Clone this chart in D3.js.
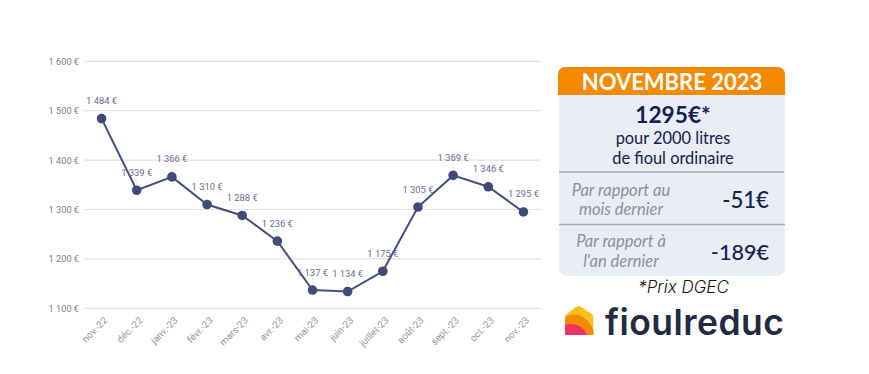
<!DOCTYPE html>
<html>
<head>
<meta charset="utf-8">
<script src="https://cdn.jsdelivr.net/npm/d3@7"></script>
<style>
  html, body { margin: 0; padding: 0; background: #fff; }
  svg { display: block; }
</style>
</head>
<body>
<svg id="chart"></svg>
<script>
const months = ['nov.-22', 'déc.-22', 'janv.-23', 'févr.-23', 'mars-23', 'avr.-23', 'mai-23', 'juin-23', 'juillet-23', 'août-23', 'sept.-23', 'oct.-23', 'nov.-23'];
const prices = [1484, 1339, 1366, 1310, 1288, 1236, 1137, 1134, 1175, 1305, 1369, 1346, 1295];
const yTicks = [1100, 1200, 1300, 1400, 1500, 1600];

const W = 869, H = 374;
const svg = d3.select('#chart').attr('width', W).attr('height', H);

const x = d3.scaleBand().domain(months).range([84, 541]);
const y = d3.scaleLinear().domain([1100, 1600]).range([308.3, 61.3]);
const fmt = v => String(v).replace(/(\d)(\d{3})$/, '$1 $2') + ' €';
const cx = d => x(d) + x.bandwidth() / 2;

const chartFont = 'Roboto, sans-serif';

// grid + y labels
svg.append('g').selectAll('line').data(yTicks).join('line')
  .attr('x1', 84).attr('x2', 541)
  .attr('y1', d => y(d)).attr('y2', d => y(d))
  .attr('stroke', '#e2e2e2').attr('stroke-width', 1.2);

svg.append('g').selectAll('text').data(yTicks).join('text')
  .attr('x', 79).attr('y', d => y(d) + 3.5)
  .attr('text-anchor', 'end')
  .attr('font-family', chartFont).attr('font-size', 9.2).attr('fill', '#808080')
  .text(fmt);

// x labels
svg.append('g').selectAll('text').data(months).join('text')
  .attr('transform', d => `translate(${cx(d) + 6.5},${321}) rotate(-45)`)
  .attr('text-anchor', 'end')
  .attr('font-family', chartFont).attr('font-size', 9.7).attr('fill', '#969696')
  .text(d => d);

// line
const series = months.map((m, i) => ({ m, v: prices[i] }));

svg.append('g').selectAll('line').data(series).join('line')
  .attr('x1', d => cx(d.m)).attr('x2', d => cx(d.m))
  .attr('y1', d => y(d.v) - 5).attr('y2', d => y(d.v) - 12)
  .attr('stroke', '#efeff3').attr('stroke-width', 1);

svg.append('path').datum(series)
  .attr('fill', 'none').attr('stroke', '#44507c').attr('stroke-width', 2)
  .attr('d', d3.line().x(d => cx(d.m)).y(d => y(d.v)));

svg.append('g').selectAll('circle').data(series).join('circle')
  .attr('cx', d => cx(d.m)).attr('cy', d => y(d.v)).attr('r', 4.8)
  .attr('fill', '#3f4b78');

svg.append('g').selectAll('text').data(series).join('text')
  .attr('x', d => cx(d.m)).attr('y', d => y(d.v) - 14.5)
  .attr('text-anchor', 'middle')
  .attr('font-family', chartFont).attr('font-size', 9.4).attr('fill', '#666f92')
  .text(d => fmt(d.v));

// panel
const panelFont = 'Lato, sans-serif';
const navy = '#14204f', grey = '#8c8fa3';

svg.append('rect').attr('x', 559).attr('y', 67).attr('width', 226).attr('height', 209).attr('rx', 8).attr('fill', '#e9edf5');
svg.append('path').attr('d', 'M558,95V74a7,7 0 0 1 7,-7H778a7,7 0 0 1 7,7V95Z').attr('fill', '#f48a00');

const txt = (s, px, py, size, fill, opts = {}) => svg.append('text')
  .attr('x', px).attr('y', py).attr('text-anchor', opts.anchor || 'middle')
  .attr('font-family', opts.font || panelFont).attr('font-size', size)
  .attr('font-weight', opts.weight || 400).attr('font-style', opts.style || 'normal')
  .attr('letter-spacing', opts.spacing || 0)
  .attr('fill', fill).text(s);

txt('NOVEMBRE 2023', 672, 90, 22, '#fff', { weight: 700 });
txt('1295€*', 673, 123, 22.7, navy, { weight: 700 });
txt('pour 2000 litres', 673, 144, 16.4, navy);
txt('de fioul ordinaire', 673, 163.5, 16.4, navy);

svg.append('line').attr('x1', 559).attr('x2', 784).attr('y1', 172).attr('y2', 172).attr('stroke', '#a3a6b8').attr('stroke-width', 1.6);
svg.append('line').attr('x1', 559).attr('x2', 785).attr('y1', 224.5).attr('y2', 224.5).attr('stroke', '#a3a6b8').attr('stroke-width', 1.6);

txt('Par rapport au', 621, 196, 16.5, grey, { style: 'italic' });
txt('mois dernier', 621, 214.5, 16.5, grey, { style: 'italic' });
txt('Par rapport à', 621, 247, 16.5, grey, { style: 'italic' });
txt("l'an dernier", 621, 266.5, 16.5, grey, { style: 'italic' });
txt('-51€', 769, 208, 22.2, navy, { anchor: 'end', weight: 500 });
txt('-189€', 769, 260, 21.6, navy, { anchor: 'end', weight: 500 });

txt('*Prix DGEC', 683.5, 293, 17, '#111', { style: 'italic', weight: 300, font: 'Inter, sans-serif' });

// logo
const house = 'M565,335V317C565,315.5 565.5,314.8 566.5,314L576,306.8C577.5,305.7 579.5,305.7 581,306.8L592,314C593,314.8 593.5,315.5 593.5,317V335Z';
svg.append('clipPath').attr('id', 'house').append('path').attr('d', house);
const logo = svg.append('g').attr('clip-path', 'url(#house)');
logo.append('path').attr('d', house).attr('fill', '#f9bf1f');
logo.append('path').attr('d', 'M564,318C575,310 590,316 595,335H564Z').attr('fill', '#f48a00');
logo.append('path').attr('d', 'M564,325C574,322 584,326 587.5,336H564Z').attr('fill', '#f0325f');
txt('fioulreduc', 605, 335, 35.5, '#232a42', { anchor: 'start', weight: 600, font: 'Inter, sans-serif', spacing: 0.45 });
</script>
</body>
</html>
